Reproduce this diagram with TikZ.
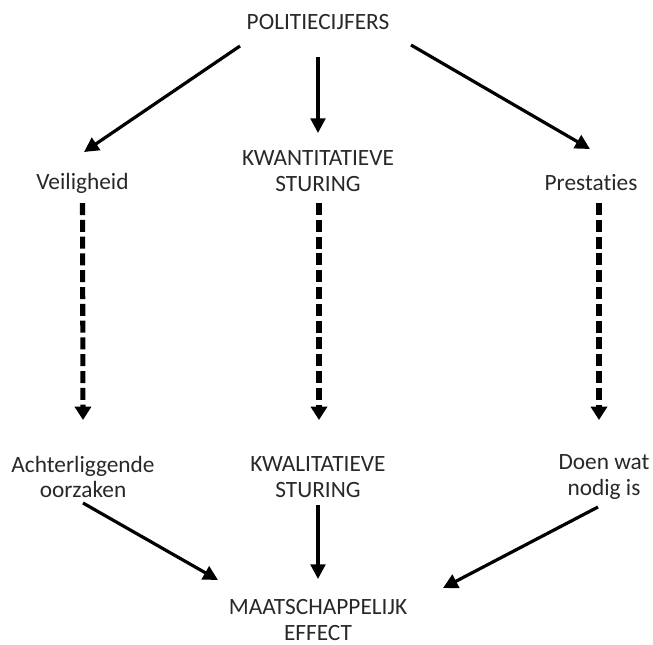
\documentclass[tikz,border=0pt]{standalone}
\usepackage{fontspec}
\setmainfont[Ligatures=NoCommon]{Carlito}
\usetikzlibrary{arrows.meta,calc}
\definecolor{txt}{RGB}{40,40,40}
\begin{document}
\begin{tikzpicture}[x=0.75pt,y=-0.75pt,
  lbl/.style={inner sep=0pt,text=txt,align=center,
    font=\fontsize{17.5}{19}\selectfont},
  arr/.style={line width=2.4pt,-{Triangle[length=11pt,width=11pt]}},
  darr/.style={line width=3.8pt,dash pattern=on 9pt off 3.6pt,
    -{Triangle[length=10pt,width=12pt]}}]
\useasboundingbox (0,0) rectangle (653,644);

% top source
\node[lbl] (pol) at (318,22) {POLITIECIJFERS};

% middle row
\node[lbl] (veil) at (82.5,183) {Veiligheid};
\node[lbl] (kwan) at (318,171) {KWANTITATIEVE\\STURING};
\node[lbl] (pres) at (591,183) {Prestaties};

% lower row
\node[lbl] (acht) at (83,477) {Achterliggende\\oorzaken};
\node[lbl] (kwal) at (318,477) {KWALITATIEVE\\STURING};
\node[lbl] (doen) at (604,477) {Doen wat\\nodig is};

% outcome
\node[lbl] (maat) at (318,620) {MAATSCHAPPELIJK\\EFFECT};

% solid arrows from the top
\draw[arr] ($(pol)+(-78,24)$) -- ($(veil)+(1.5,-31)$);
\draw[arr] ($(pol)+(0,35)$) -- ($(kwan)+(0,-38)$);
\draw[arr] ($(pol)+(93,23)$) -- ($(pres)+(-1,-34)$);

% dashed arrows down
\draw[darr] ($(veil)+(0,20)$) -- ($(acht)+(0,-57)$);
\draw[darr] ($(kwan)+(1,32)$) -- ($(kwal)+(1,-57)$);
\draw[darr] ($(pres)+(8,20)$) -- ($(doen)+(-5,-57)$);

% solid arrows to the outcome
\draw[arr] ($(acht)+(0,26)$) -- ($(maat)+(-100,-40)$);
\draw[arr] ($(kwal)+(0,28)$) -- ($(maat)+(0,-41)$);
\draw[arr] ($(doen)+(-6,30)$) -- ($(maat)+(125,-32)$);
\end{tikzpicture}
\end{document}
